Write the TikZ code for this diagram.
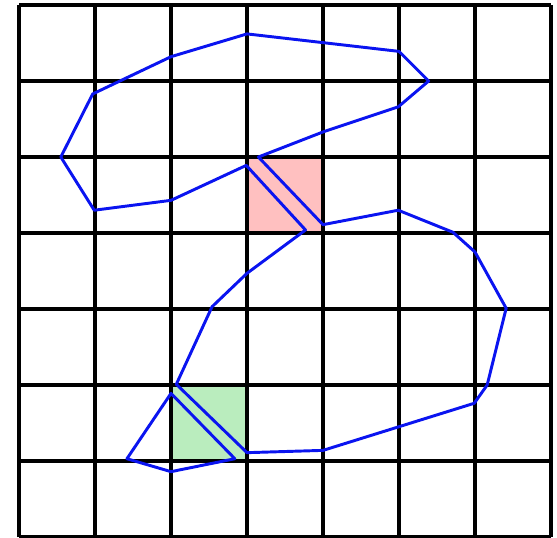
\documentclass[tikz,border=0pt]{standalone}
\usepackage{xcolor}
\usepackage{tikz}
\usetikzlibrary{calc}
\definecolor{knotBlue}{HTML}{0A14F0}
\definecolor{knotPink}{HTML}{FFC0C0}
\definecolor{knotGreen}{HTML}{BAEDBE}
\tikzset{
  knotgrid/.style={line width=1.3pt,black},
  knotcell/.style={draw=none},
  knotpath/.style={line width=1.1pt,knotBlue,line join=round}
}
\begin{document}
\begin{tikzpicture}[x=1cm,y=1cm]
    \useasboundingbox (-0.25,0) rectangle (7.079,7.066);

    % shaded crossing cells
    \fill[knotcell,knotPink] (3,4) rectangle (4,5);
    \fill[knotcell,knotGreen] (2,1) rectangle (3,2);

    % square grid
    \draw[knotgrid] (0,0) grid (7,7);

    % main closed curve
    \draw[knotpath] (3.15,5.0) -- (4.0,5.33) -- (4.99,5.66) -- (5.39,6.0)
      -- (5.0,6.39) -- (3.0,6.62) -- (2.0,6.32) -- (0.97,5.83)
      -- (0.55,5.0) -- (0.99,4.30) -- (2.0,4.43) -- (2.99,4.89)
      -- (3.77,4.04) -- (3.0,3.47) -- (2.54,3.03) -- (2.07,2.01)
      -- (3.0,1.11) -- (4.0,1.14) -- (5.99,1.76) -- (6.16,2.0)
      -- (6.41,3.01) -- (6.0,3.75) -- (5.71,4.01) -- (4.99,4.30)
      -- (4.0,4.11) -- cycle;

    % small closed curve
    \draw[knotpath] (2.0,1.89) -- (2.84,1.03) -- (2.0,0.86)
      -- (1.42,1.03) -- cycle;
\end{tikzpicture}
\end{document}
